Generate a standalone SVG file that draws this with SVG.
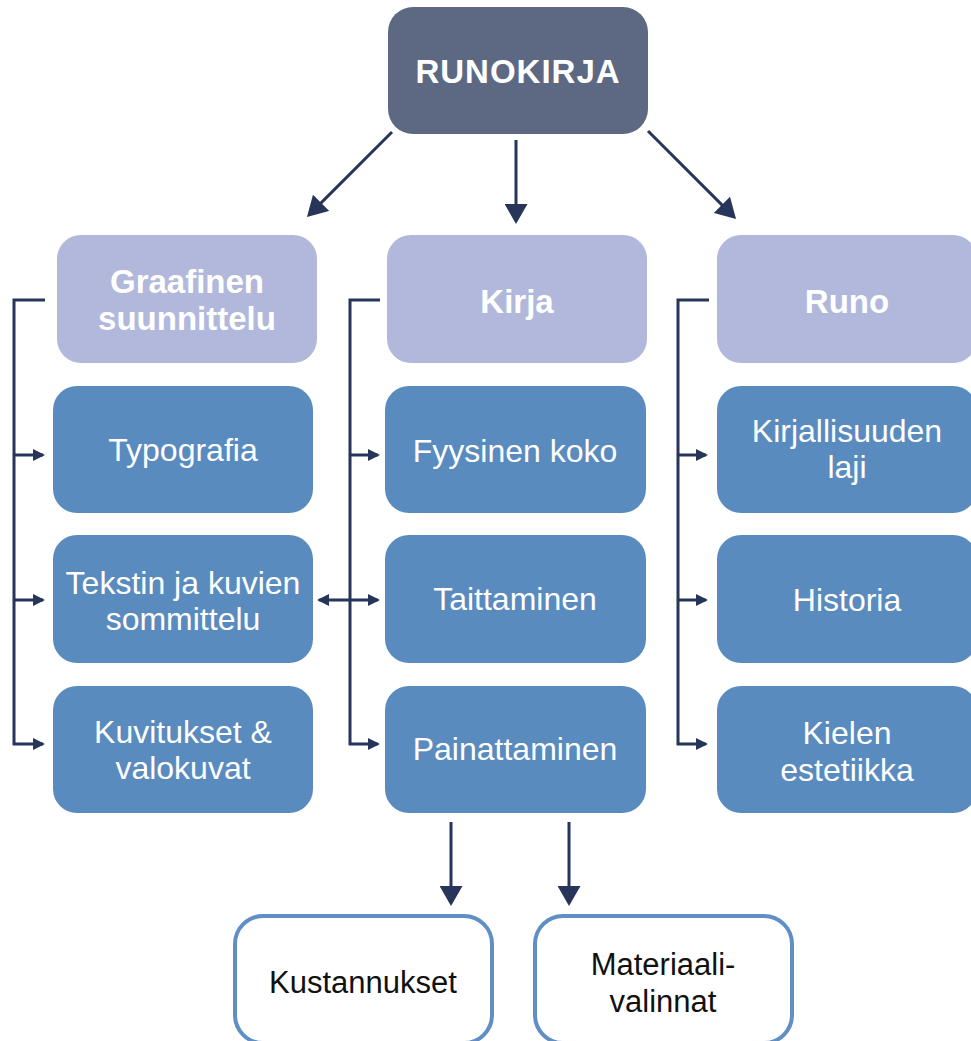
<svg xmlns="http://www.w3.org/2000/svg" width="971" height="1041" viewBox="0 0 971 1041">
<style>
.root{fill:#5d6982}
.l2{fill:#b1b8dc}
.l3{fill:#598bbf}
.l4{fill:#ffffff;stroke:#5f8fc4;stroke-width:4}
.t{font-family:"Liberation Sans",Arial,sans-serif;text-anchor:middle}
.tb{font-weight:bold;font-size:33px;fill:#ffffff}
.tr{font-size:32px;fill:#ffffff}
.tk{font-size:31px;fill:#111111}
.c{stroke:#27355a;stroke-width:3;fill:none}
</style>
<defs>
<marker id="big" markerUnits="userSpaceOnUse" markerWidth="20" markerHeight="23" refX="17" refY="11.5" orient="auto">
<path d="M0,0 L20,11.5 L0,23 z" fill="#27355a"/>
</marker>
<marker id="sm" markerUnits="userSpaceOnUse" markerWidth="12" markerHeight="12" refX="10" refY="6" orient="auto-start-reverse">
<path d="M0,0 L12,6 L0,12 z" fill="#27355a"/>
</marker>
</defs>
<rect width="971" height="1041" fill="#ffffff"/>
<g id="connectors">
<line class="c" x1="392" y1="132" x2="309.1" y2="214.9" marker-end="url(#big)"/>
<line class="c" x1="516" y1="140" x2="516" y2="221" marker-end="url(#big)"/>
<line class="c" x1="648" y1="131" x2="733.9" y2="216.9" marker-end="url(#big)"/>
<line class="c" x1="451" y1="822" x2="451" y2="903" marker-end="url(#big)"/>
<line class="c" x1="569" y1="822" x2="569" y2="903" marker-end="url(#big)"/>
<polyline class="c" points="45,300 14,300 14,744 43,744" marker-end="url(#sm)"/>
<line class="c" x1="14" y1="455" x2="43" y2="455" marker-end="url(#sm)"/>
<line class="c" x1="14" y1="600" x2="43" y2="600" marker-end="url(#sm)"/>
<polyline class="c" points="380,300 350,300 350,744 378,744" marker-end="url(#sm)"/>
<line class="c" x1="350" y1="455" x2="378" y2="455" marker-end="url(#sm)"/>
<line class="c" x1="319" y1="600" x2="378" y2="600" marker-start="url(#sm)" marker-end="url(#sm)"/>
<polyline class="c" points="709,300 678,300 678,744 706,744" marker-end="url(#sm)"/>
<line class="c" x1="678" y1="455" x2="706" y2="455" marker-end="url(#sm)"/>
<line class="c" x1="678" y1="600" x2="706" y2="600" marker-end="url(#sm)"/>
</g>
<g id="runokirja">
<rect class="root" x="388" y="7" width="260" height="127" rx="25"/>
<text class="t tb" x="518" y="83" letter-spacing="1">RUNOKIRJA</text>
</g>
<g id="graafinen">
<rect class="l2" x="57" y="235" width="260" height="128" rx="24"/>
<text class="t tb" x="187" y="293">Graafinen</text>
<text class="t tb" x="187" y="330">suunnittelu</text>
</g>
<g id="kirja">
<rect class="l2" x="387" y="235" width="260" height="128" rx="24"/>
<text class="t tb" x="517" y="313">Kirja</text>
</g>
<g id="runo">
<rect class="l2" x="717" y="235" width="260" height="128" rx="24"/>
<text class="t tb" x="847" y="313">Runo</text>
</g>
<g id="typografia">
<rect class="l3" x="53" y="386" width="260" height="127" rx="24"/>
<text class="t tr" x="183" y="461">Typografia</text>
</g>
<g id="sommittelu">
<rect class="l3" x="53" y="535" width="260" height="128" rx="24"/>
<text class="t tr" x="183" y="594">Tekstin ja kuvien</text>
<text class="t tr" x="183" y="630">sommittelu</text>
</g>
<g id="kuvitukset">
<rect class="l3" x="53" y="686" width="260" height="127" rx="24"/>
<text class="t tr" x="183" y="743">Kuvitukset &amp;</text>
<text class="t tr" x="183" y="779">valokuvat</text>
</g>
<g id="fyysinen">
<rect class="l3" x="385" y="386" width="261" height="127" rx="24"/>
<text class="t tr" x="515" y="462">Fyysinen koko</text>
</g>
<g id="taittaminen">
<rect class="l3" x="385" y="535" width="261" height="128" rx="24"/>
<text class="t tr" x="515" y="610">Taittaminen</text>
</g>
<g id="painattaminen">
<rect class="l3" x="385" y="686" width="261" height="127" rx="24"/>
<text class="t tr" x="515" y="760">Painattaminen</text>
</g>
<g id="kirjallisuuden">
<rect class="l3" x="717" y="386" width="260" height="127" rx="24"/>
<text class="t tr" x="847" y="442">Kirjallisuuden</text>
<text class="t tr" x="847" y="478">laji</text>
</g>
<g id="historia">
<rect class="l3" x="717" y="535" width="260" height="128" rx="24"/>
<text class="t tr" x="847" y="611">Historia</text>
</g>
<g id="kielen">
<rect class="l3" x="717" y="686" width="260" height="127" rx="24"/>
<text class="t tr" x="847" y="744">Kielen</text>
<text class="t tr" x="847" y="781">estetiikka</text>
</g>
<g id="kustannukset">
<rect class="l4" x="235" y="916" width="257" height="127" rx="28"/>
<text class="t tk" x="363" y="993">Kustannukset</text>
</g>
<g id="materiaali">
<rect class="l4" x="535" y="916" width="257" height="127" rx="28"/>
<text class="t tk" x="663" y="975">Materiaali-</text>
<text class="t tk" x="663" y="1012">valinnat</text>
</g>
</svg>
